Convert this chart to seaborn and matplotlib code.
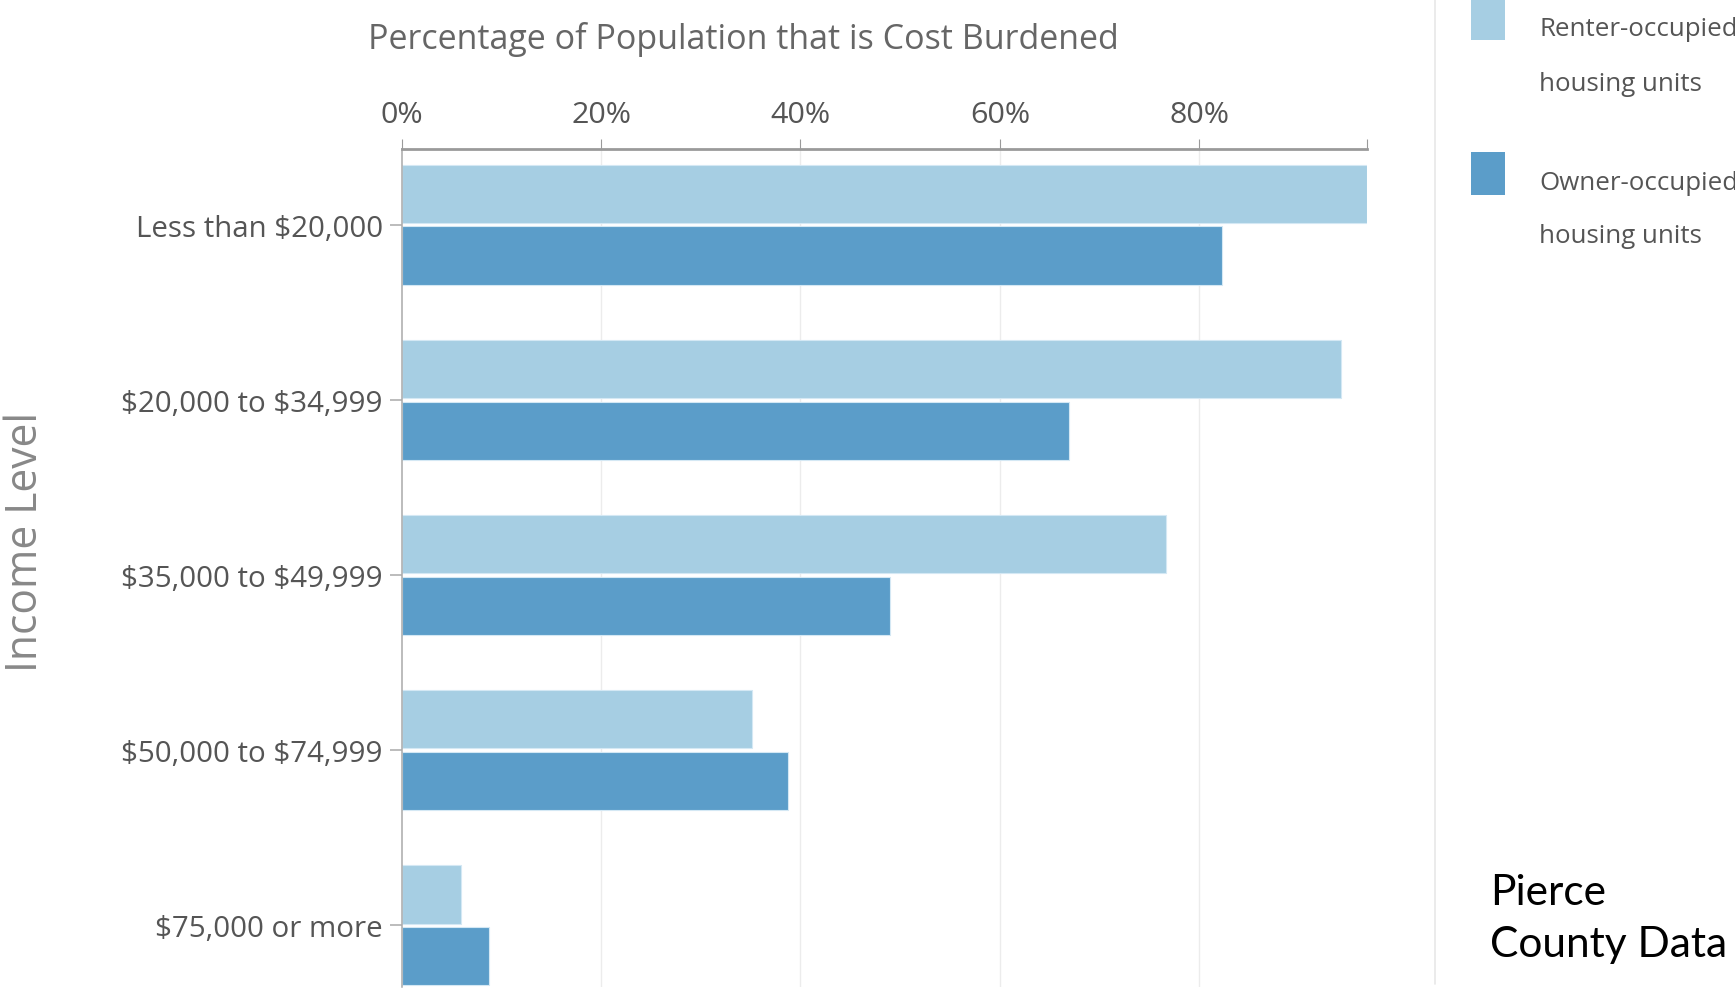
import numpy as np
import pandas as pd
import matplotlib
matplotlib.use("Agg")
import matplotlib.pyplot as plt
from matplotlib import font_manager
from matplotlib.patches import Rectangle
from matplotlib.lines import Line2D
import seaborn as sns

# ---------------- data ----------------
income_levels = ["Less than $20,000", "$20,000 to $34,999", "$35,000 to $49,999",
                 "$50,000 to $74,999", "$75,000 or more"]
renter_pct = [96.8, 94.2, 76.7, 35.1, 5.9]
owner_pct = [82.3, 66.9, 49.0, 38.7, 8.8]
series_names = ["Renter-occupied housing units", "Owner-occupied housing units"]
x_ticks = [0, 20, 40, 60, 80]
x_tick_labels = ["0%", "20%", "40%", "60%", "80%"]
title = "Percentage of Population that is Cost Burdened"
y_title = "Income Level"
legend_lines = [["Renter-occupied", "housing units"], ["Owner-occupied", "housing units"]]
note_lines = ["Pierce", "County Data"]

renter_color = "#a6cee3"
owner_color = "#5b9dc9"

df = pd.DataFrame({
    "Income Level": income_levels * 2,
    "Percent": renter_pct + owner_pct,
    "Tenure": [series_names[0]] * len(income_levels) + [series_names[1]] * len(income_levels),
})

# ---------------- style ----------------
sns.set_theme(style="white")
names = {f.name for f in font_manager.fontManager.ttflist}
narrow = "Liberation Sans Narrow" if "Liberation Sans Narrow" in names else "Open Sans"
plt.rcParams["font.family"] = ["Open Sans", "DejaVu Sans"]
plt.rcParams["text.parse_math"] = False

W, H = 1735, 995
fig = plt.figure(figsize=(W / 100, H / 100), dpi=100)
fig.patch.set_facecolor("white")

def fx(px):
    return px / W

def fy(py):
    return 1 - py / H

ax_left, ax_right, ax_top, ax_bot = 401.7, 1366.7, 150, 988
ax = fig.add_axes([fx(ax_left), fy(ax_bot), (ax_right - ax_left) / W, (ax_bot - ax_top) / H])

sns.barplot(data=df, x="Percent", y="Income Level", hue="Tenure", orient="h",
            palette=[renter_color, owner_color], saturation=1, width=0.7, gap=0.05,
            edgecolor="#d4e8f4", linewidth=0.8, legend=False, ax=ax)

xmax = max(renter_pct + owner_pct)
ax.set_xlim(0, xmax)
ax.set_ylim(len(income_levels) - 1 + 0.354, -0.434)
ax.set_xlabel("")
ax.set_ylabel("")

renderer = fig.canvas.get_renderer()

def size_for(text, family, target_w, base=20):
    t = fig.text(0, 0, text, fontsize=base, family=family, parse_math=False)
    w = t.get_window_extent(renderer).width
    t.remove()
    return base * target_w / w

# x axis on top
ax.xaxis.tick_top()
ax.set_xticks(x_ticks + [xmax])
ax.set_xticklabels(x_tick_labels + [""])
xt_size = size_for("80%", narrow, 60)
ax.tick_params(axis="x", which="both", top=True, bottom=False, direction="out",
               length=7.2, width=0.8, color="#9a9a9a", pad=7,
               labelsize=xt_size, labelcolor="#555555")
for lab in ax.get_xticklabels():
    lab.set_family(narrow)

ax.grid(axis="x", color="#ececec", linewidth=1.0)
ax.grid(axis="y", visible=False)
gl = ax.get_xgridlines()
gl[0].set_visible(False)
gl[-1].set_visible(False)
ax.set_axisbelow(True)

# y axis
yt_size = size_for("$20,000 to $34,999", "Open Sans", 261)
ax.tick_params(axis="y", left=True, direction="out", length=8.5, width=1.1,
               color="#aaaaaa", pad=5, labelsize=yt_size, labelcolor="#555555")

for s in ["right", "bottom"]:
    ax.spines[s].set_visible(False)
ax.spines["top"].set_color("#9a9a9a")
ax.spines["top"].set_linewidth(2.0)
ax.spines["left"].set_color("#aaaaaa")
ax.spines["left"].set_linewidth(1.1)

# title
t_size = size_for(title, narrow, 749)
fig.text(fx(743), fy(48.7), title, ha="center", va="baseline",
         fontsize=t_size, family=narrow, color="#666666")

# y axis title
yl_size = size_for(y_title, "Open Sans", 260)
fig.text(fx(26), fy(542), y_title, rotation=90, ha="center", va="center",
         fontsize=yl_size, family="Open Sans", color="#888888")

# separator line
fig.add_artist(Line2D([fx(1435), fx(1435)], [fy(0), fy(985)], color="#e8e8e8",
                      linewidth=1.2, transform=fig.transFigure))

# legend
lg_size = size_for("housing units", narrow, 162)
sq_tops = [0, 152.7]
sq_bots = [41.3, 195.7]
baselines = [(36, 90.7), (190, 243)]
for i, col in enumerate([renter_color, owner_color]):
    fig.add_artist(Rectangle((fx(1471), fy(sq_bots[i])), (1505 - 1471) / W,
                             (sq_bots[i] - sq_tops[i]) / H, facecolor=col,
                             edgecolor="none", transform=fig.transFigure))
    for line, b in zip(legend_lines[i], baselines[i]):
        fig.text(fx(1539), fy(b), line, ha="left", va="baseline",
                 fontsize=lg_size, family=narrow, color="#555555")

# note
n_size = size_for(note_lines[1], "Lato", 238)
fig.text(fx(1490), fy(905), note_lines[0], ha="left", va="baseline",
         fontsize=n_size, family="Lato", color="black")
fig.text(fx(1490), fy(957), note_lines[1], ha="left", va="baseline",
         fontsize=n_size, family="Lato", color="black")

fig.savefig("out.png", dpi=100, facecolor="white")
